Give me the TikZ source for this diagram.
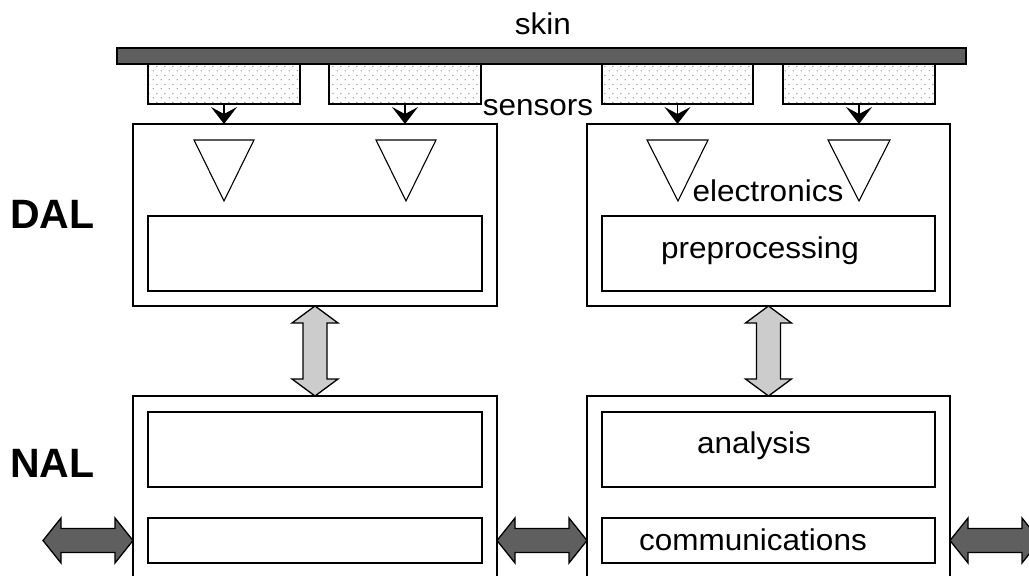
\documentclass[tikz,border=0pt]{standalone}
\usepackage{fontspec}
\usepackage{graphicx}
\setmainfont{Liberation Sans}
\usetikzlibrary{arrows.meta,patterns.meta,calc,fit}
\definecolor{skingray}{HTML}{5F5F5F}
\definecolor{lgray}{HTML}{CCCCCC}
\definecolor{dotgray}{HTML}{9A9A9A}
\tikzdeclarepattern{name=sdots,type=uncolored,
  bounding box={(0pt,0pt) and (8pt,9pt)},tile size={(8pt,9pt)},
  code={\fill (1.5pt,1.5pt) circle (0.8pt); \fill (5.5pt,6pt) circle (0.8pt);}}
\newcommand\wide[1]{\scalebox{1.05}[1]{#1}}
\tikzset{
  box/.style={draw, line width=1.3pt, inner sep=0pt, outer sep=0pt, fill=white},
  sensorbox/.style={draw, line width=1.3pt, inner sep=0pt, outer sep=0pt, pattern={sdots}, pattern color=dotgray},
  skinbar/.style={draw, line width=1.3pt, inner sep=0pt, outer sep=0pt, fill=skingray},
  lbl/.style={font=\fontsize{30}{34}\selectfont, inner sep=0pt, anchor=base},
  big/.style={font=\fontsize{41}{46}\selectfont\bfseries, inner sep=0pt, anchor=base west},
  sarrow/.style={-{Stealth[length=17pt,width=26pt,inset=7pt]}, line width=1.8pt},
  tri/.style={draw, line width=1.1pt, line join=miter},
  garrow/.style={draw, line width=1.3pt, fill=lgray, line join=miter},
  darrow/.style={draw, line width=1.3pt, fill=skingray, line join=miter},
  harr/.pic={\path[darrow] (0,0) -- ++(18,-22.5) -- ++(0,10.5) -- ++(54,0) -- ++(0,-10.5)
     -- ++(18,22.5) -- ++(-18,22.5) -- ++(0,-10.5) -- ++(-54,0) -- ++(0,10.5) -- cycle;},
  varr/.pic={\path[garrow] (0,0) -- ++(23,17) -- ++(-11,0) -- ++(0,56) -- ++(11,0)
     -- ++(-23,17) -- ++(-23,-17) -- ++(11,0) -- ++(0,-56) -- ++(-11,0) -- cycle;},
}
\begin{document}
\begin{tikzpicture}[x=1pt,y=-1pt]
\useasboundingbox (0,0) rectangle (1029,576);
\clip (0,0) rectangle (1029,576);
% skin and sensors
\node[skinbar, fit={(117,48) (966,64)}] (skin) {};
\node[sensorbox, fit={(148,64) (300,104)}] (s1) {};
\node[sensorbox, fit={(329,64) (481,104)}] (s2) {};
\node[sensorbox, fit={(602,64) (753,104)}] (s3) {};
\node[sensorbox, fit={(783,64) (935,104)}] (s4) {};
\node[lbl] (skinlbl) at (543,34) {\wide{skin}};
\node[lbl] (senslbl) at (538,115) {\wide{sensors}};
% DAL boxes
\node[box, fit={(133,124) (497,306)}] (dalL) {};
\node[box, fit={(587,124) (950,306)}] (dalR) {};
\node[box, fit={(148,216) (482,291)}] (preL) {};
\node[box, fit={(602,216) (935,291)}] (preR) {};
\draw[tri] (194,140) -- (254,140) -- (224,201) -- cycle;
\draw[tri] (376,140) -- (436,140) -- (406,201) -- cycle;
\draw[tri] (647,140) -- (708,140) -- (678,201) -- cycle;
\draw[tri] (828,140) -- (890,140) -- (859,201) -- cycle;
\node[lbl] (elec) at (768,201) {\wide{electronics}};
\node[lbl] (prelbl) at (760,258) {\wide{preprocessing}};
% NAL boxes
\node[box, fit={(133,396) (497,620)}] (nalL) {};
\node[box, fit={(587,396) (950,620)}] (nalR) {};
\node[box, fit={(148,412) (482,487)}] (anaL) {};
\node[box, fit={(148,518) (482,563)}] (comL) {};
\node[box, fit={(602,412) (935,487)}] (anaR) {};
\node[box, fit={(602,518) (935,563)}] (comR) {};
\node[lbl] (analbl) at (754,453) {\wide{analysis}};
\node[lbl] (comlbl) at (753,550) {\wide{communications}};
% layer labels
\node[big] (dal) at (10,228) {DAL};
\node[big] (nal) at (10,477) {NAL};
% sensor arrows
\foreach \s/\t in {s1/dalL, s2/dalL, s3/dalR, s4/dalR}
  \draw[sarrow] (\s.south) -- (\s.south |- \t.north);
% vertical gray arrows
\pic at (dalL.south) {varr};
\pic at (dalR.south) {varr};
% horizontal dark arrows
\pic at ($(nalL.west |- comL.center)+(-90,0)$) {harr};
\pic at (nalL.east |- comL.center) {harr};
\pic at (nalR.east |- comR.center) {harr};
\end{tikzpicture}
\end{document}
